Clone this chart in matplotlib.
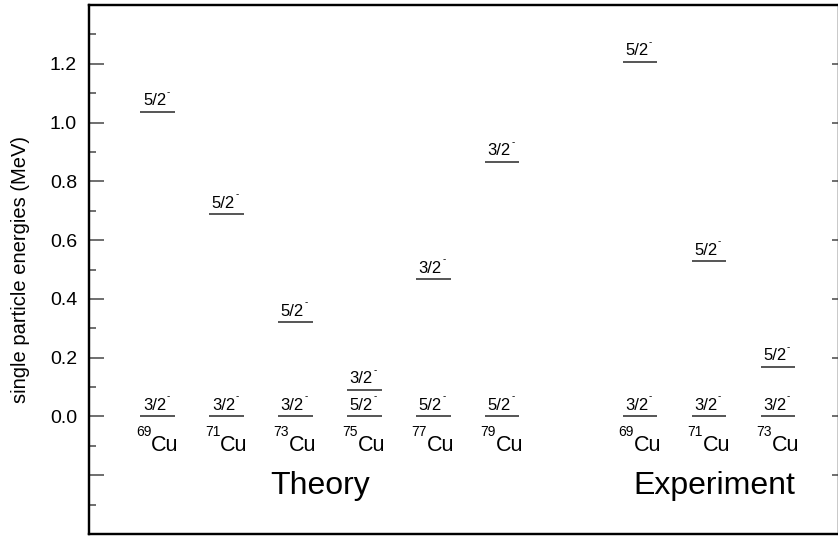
import matplotlib
matplotlib.use("Agg")
import matplotlib.pyplot as plt
import numpy as np

plt.rcParams['font.family'] = ['Liberation Sans', 'DejaVu Sans']

# level energies in MeV
theory_mass = ['69', '71', '73', '75', '77', '79']
theory_32 = [0.0, 0.0, 0.0, 0.09, 0.467, 0.867]
theory_52 = [1.036, 0.688, 0.321, 0.0, 0.0, 0.0]

exp_mass = ['69', '71', '73']
exp_32 = [0.0, 0.0, 0.0]
exp_52 = [1.206, 0.528, 0.169]

ytick_vals = [-0.4, -0.2, 0.0, 0.2, 0.4, 0.6, 0.8, 1.0, 1.2, 1.4]
ytick_labels = ['', '', '0.0', '0.2', '0.4', '0.6', '0.8', '1.0', '1.2', '']

W, H = 838, 536
fig = plt.figure(figsize=(W / 100, H / 100), dpi=100)
ax = fig.add_axes([88.7 / W, 1 - 534 / H, (838.6 - 88.7) / W, (534 - 5) / H])

xt = np.arange(1, 7)
xe = np.arange(8, 11)
half = 0.25
lcol = '#555555'


def level(x, y, spin):
    ax.hlines(y, x - half, x + half, color=lcol, lw=1.4)
    ax.annotate(spin, (x, y), xytext=(-2.2, 4.7), textcoords='offset points',
                ha='center', va='baseline', fontsize=12)
    # tiny parity dash
    ax.annotate('-', (x, y), xytext=(7.6, 12.2), textcoords='offset points',
                ha='center', va='baseline', fontsize=7)


def isotope(x, mass):
    # superscript mass number then the element symbol
    ax.annotate(mass, (x, 0), xytext=(-4.5, -13.9), textcoords='offset points',
                ha='right', va='baseline', fontsize=10)
    ax.annotate('Cu', (x, 0), xytext=(-4.5, -25.2), textcoords='offset points',
                ha='left', va='baseline', fontsize=15.5)


for x, m, a, b in zip(xt, theory_mass, theory_32, theory_52):
    level(x, a, '3/2')
    level(x, b, '5/2')
    isotope(x, m)

for x, m, a, b in zip(xe, exp_mass, exp_32, exp_52):
    level(x, a, '3/2')
    level(x, b, '5/2')
    isotope(x, m)

ax.text(3.36, -0.265, 'Theory', ha='center', va='baseline', fontsize=23)
ax.text(9.08, -0.265, 'Experiment', ha='center', va='baseline', fontsize=23)

ax.set_xlim(0, 10.88)
ax.set_ylim(-0.4, 1.4)
ax.set_xticks([])
ax.set_yticks(ytick_vals)
ax.set_yticklabels(ytick_labels)
ax.set_yticks(np.arange(-0.3, 1.4, 0.2), minor=True)
ax.tick_params(axis='y', which='major', direction='in', length=10.5, width=1.2,
               color=lcol, labelsize=14, pad=8.4)
ax.tick_params(axis='y', which='minor', direction='in', length=5.3, width=1.2, color=lcol)
ax.set_ylabel('single particle energies (MeV)', fontsize=14.5, labelpad=14)

rax = ax.twinx()
rax.set_ylim(ax.get_ylim())
rax.set_yticks(ytick_vals)
rax.set_yticklabels([])
rax.tick_params(axis='y', direction='in', length=5.3, width=1.2, color=lcol)

for a in (ax, rax):
    for s in a.spines.values():
        s.set_linewidth(1.6)

fig.savefig('out.png', dpi=100)
